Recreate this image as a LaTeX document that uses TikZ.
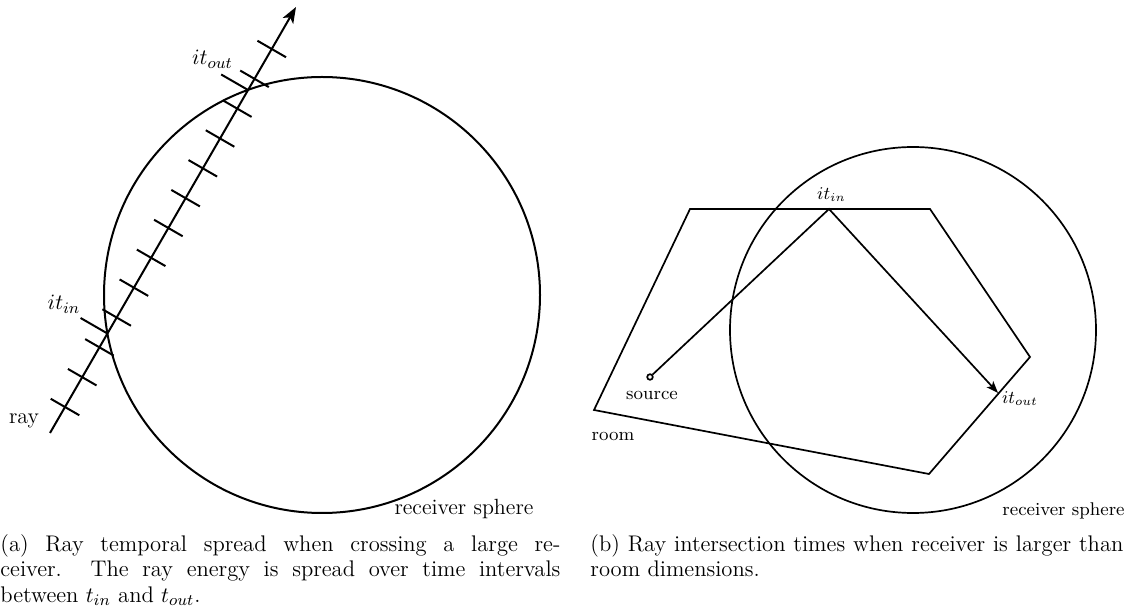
\documentclass[tikz,border=0pt]{standalone}
\usepackage{fontspec}
\usetikzlibrary{calc,arrows.meta}
\begin{document}
\begin{tikzpicture}[x=0.5pt,y=-0.5pt,
  lft/.style={line width=1pt},
  rgt/.style={line width=0.85pt},
  lbl/.style={inner sep=0pt, font=\fontsize{11}{13}\selectfont},
  lblr/.style={inner sep=0pt, font=\fontsize{9.2}{11}\selectfont},
  captext/.style={inner sep=0pt, anchor=base west, font=\fontsize{11.3}{12.5}\selectfont}
]
\useasboundingbox (0,0) rectangle (1129,608);

% ---------- (a) ----------
\coordinate (cL) at (322,295);
\draw[lft] (cL) circle[radius=218];
\coordinate (rs) at (50,433);
\coordinate (re) at (296,7);
\draw[lft, -{Stealth[length=8pt,width=6pt,inset=2pt]}] (rs) -- (re);
\foreach \k in {0,...,12} {
  \pgfmathsetmacro\s{(30+34.45*\k)/491.9}
  \draw[lft] ($(rs)!\s!(re)$) ++(-14.29,-8.25) -- ++(28.58,16.5);
}
\coordinate (pin) at (107.45,333.5);
\coordinate (pout) at (248.05,90.0);
\coordinate (lin) at (80.6,318);
\coordinate (lout) at (221.2,74.5);
\draw[lft] (lin) -- (pin);
\draw[lft] (lout) -- (pout);
\node[lbl, anchor=base] (itinL) at (64,310) {$it_{in}$};
\node[lbl, anchor=base] (itoutL) at (212.5,65) {$it_{out}$};
\node[lbl, anchor=base] (rayL) at (24,424) {ray};
\node[lbl, anchor=base] (rsL) at (464,515) {receiver sphere};
\node[captext] (capa) at (0,552) {\parbox[t]{280pt}{(a) Ray temporal spread when crossing a large re-\linebreak ceiver. The ray energy is spread over time intervals\linebreak between $t_{in}$ and $t_{out}$.}};

% ---------- (b) ----------
\coordinate (cR) at (913,330);
\draw[rgt] (cR) circle[radius=183];
\coordinate (r1) at (690,209);
\coordinate (r2) at (930,209);
\coordinate (r3) at (1030,357);
\coordinate (r4) at (929,474);
\coordinate (r5) at (594,410);
\draw[rgt, line join=miter] (r1) -- (r2) -- (r3) -- (r4) -- (r5) -- cycle;
\node[circle, draw, rgt, minimum size=2.8pt, inner sep=0pt] (src) at (650,377) {};
\coordinate (itin) at (829,209);
\coordinate (itout) at (998,393);
\draw[rgt, -{Stealth[length=6pt,width=4.5pt,inset=1.5pt]}] (src) -- (itin) -- (itout);
\node[lblr, anchor=base] (itinR) at (831.5,200) {$it_{in}$};
\node[lblr, anchor=base] (itoutR) at (1020,404) {$it_{out}$};
\node[lblr, anchor=base] (srcL) at (652,400) {source};
\node[lblr, anchor=base] (roomL) at (613,441) {room};
\node[lblr, anchor=base] (rsR) at (1063.5,516) {receiver sphere};
\node[captext] (capb) at (590,552) {\parbox[t]{266.5pt}{(b) Ray intersection times when receiver is larger than\linebreak room dimensions.}};
\end{tikzpicture}
\end{document}
